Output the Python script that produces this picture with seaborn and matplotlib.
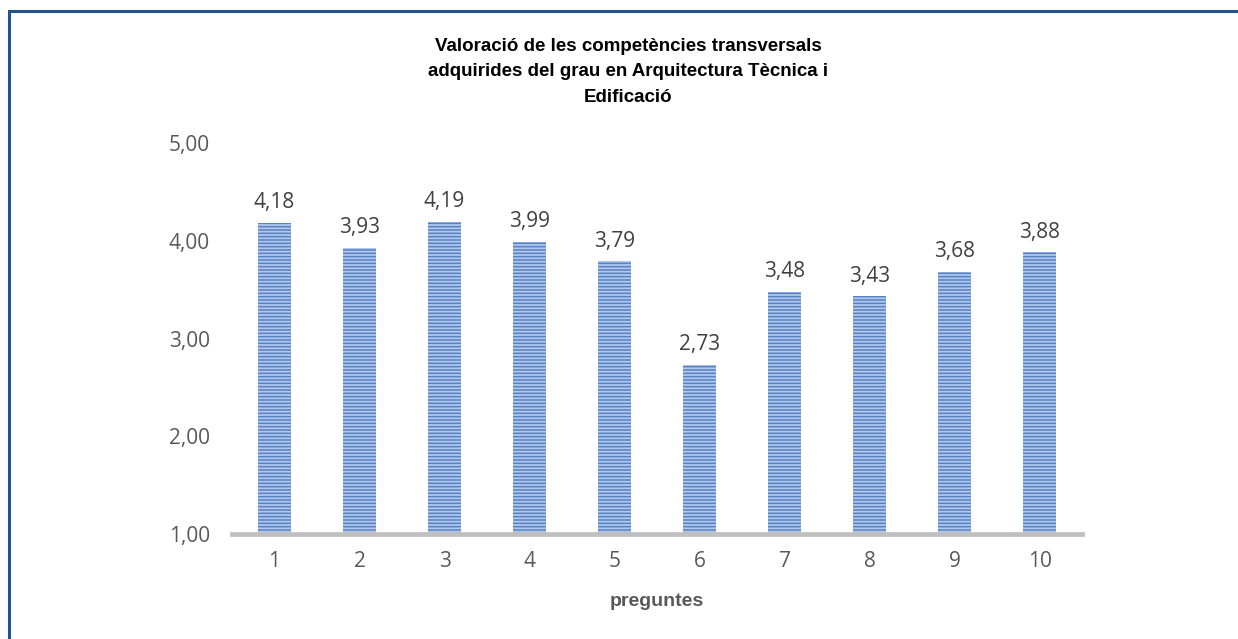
import matplotlib
matplotlib.use("Agg")
import matplotlib.pyplot as plt
import seaborn as sns
import pandas as pd
from matplotlib.patches import Rectangle

categories = ["1", "2", "3", "4", "5", "6", "7", "8", "9", "10"]
values = [4.18, 3.93, 4.19, 3.99, 3.79, 2.73, 3.48, 3.43, 3.68, 3.88]
y_ticks = [1, 2, 3, 4, 5]
title_lines = ["Valoració de les competències transversals",
               "adquirides del grau en Arquitectura Tècnica i",
               "Edificació"]
x_label = "preguntes"

sns.set_theme(style="white")
plt.rcParams["font.family"] = ["Open Sans", "DejaVu Sans"]
plt.rcParams["hatch.linewidth"] = 1.3

W, H = 1238, 639
fig = plt.figure(figsize=(W / 100, H / 100), dpi=100)
ax = fig.add_axes([232 / W, 1 - 534 / H, (1082 - 232) / W, (534 - 143) / H])

df = pd.DataFrame({"pregunta": categories, "valor": values})
sns.barplot(data=df, x="pregunta", y="valor", ax=ax, color="#5583c6",
            width=0.39, saturation=1, linewidth=0, edgecolor="#b3c7ea")
for p in ax.patches:
    p.set_hatch("-----")
    p.set_edgecolor("#b3c7ea")
    p.set_linewidth(0)

ax.set_ylim(1, 5)
ax.set_xlim(-0.5, 9.5)
ax.set_yticks(y_ticks)
ax.set_yticklabels([f"{v:.2f}".replace(".", ",") for v in y_ticks])
ax.tick_params(axis="both", length=0, labelsize=15, colors="#595959")
ax.tick_params(axis="x", pad=12)
ax.tick_params(axis="y", pad=16)

for s in ["top", "right", "left"]:
    ax.spines[s].set_visible(False)
ax.spines["bottom"].set_color("#bfbfbf")
ax.spines["bottom"].set_linewidth(3.4)
ax.grid(False)

labels = [f"{v:.2f}".replace(".", ",") for v in values]
ax.bar_label(ax.containers[0], labels=labels, padding=7, fontsize=15,
             color="#404040")

ax.set_xlabel(x_label, fontsize=14, fontweight="bold", color="#595959",
              family=["Liberation Sans", "DejaVu Sans"], labelpad=15)
ax.set_ylabel("")

fig.text(628 / W, 1 - 72 / H, "\n".join(title_lines), ha="center", va="center",
         fontsize=13.5, fontweight="bold", color="#000000",
         family=["Liberation Sans", "DejaVu Sans"], linespacing=1.62)

frame = Rectangle((9 / W, -0.1), 1.2, 1 - 11 / H + 0.1, transform=fig.transFigure,
                  fill=False, edgecolor="#24528f", linewidth=2.2, clip_on=False)
fig.patches.append(frame)

fig.savefig("out.png", dpi=100)
